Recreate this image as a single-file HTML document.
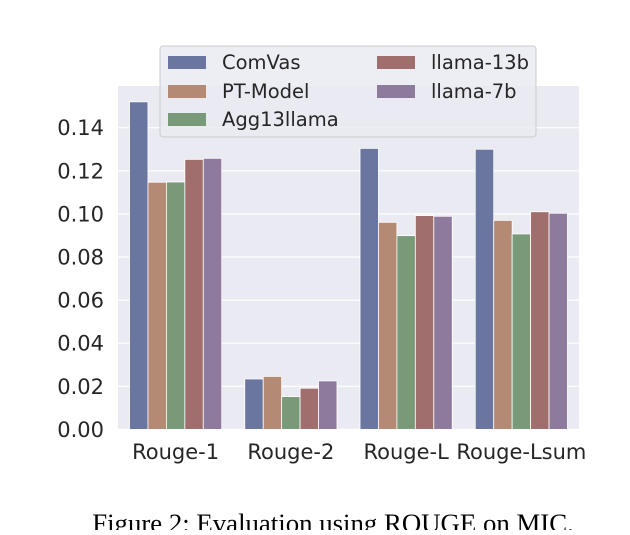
<!DOCTYPE html>
<html><head><meta charset="utf-8"><style>
body{margin:0;background:#fff;width:630px;height:530px;overflow:hidden}
svg text{font-family:"DejaVu Sans","Liberation Sans",sans-serif}
</style></head><body>
<svg width="630" height="530">
<g id="chart"></g>
<text x="333" y="532" text-anchor="middle" style="font-family:'Liberation Serif',serif;font-size:26.8px">Figure 2: Evaluation using ROUGE on MIC.</text>
</svg>
<script>
const categories=["Rouge-1","Rouge-2","Rouge-L","Rouge-Lsum"];
const seriesNames=["ComVas","PT-Model","Agg13llama","llama-13b","llama-7b"];
const comvas=[0.152,0.0234,0.1304,0.130];
const ptModel=[0.1147,0.0246,0.0961,0.0970];
const agg13llama=[0.1148,0.0152,0.0899,0.0907];
const llama13b=[0.1253,0.0191,0.0992,0.1010];
const llama7b=[0.1258,0.0225,0.0989,0.1003];
const yTicks=[0,0.02,0.04,0.06,0.08,0.10,0.12,0.14];
const tickLabels=["0.00","0.02","0.04","0.06","0.08","0.10","0.12","0.14"];
const series=[comvas,ptModel,agg13llama,llama13b,llama7b];
const colors=["#6a75a0","#b58a74","#789a78","#a06e6c","#8d7a9d"];
const L=118,R=579,T=86,B=429.4;
const yScale=v=>B-v/0.02*43.1;
const xScale=u=>L+(u+0.5)*(R-L)/4;
const NS="http://www.w3.org/2000/svg";
const g=document.getElementById('chart');
function mk(t,a){const e=document.createElementNS(NS,t);for(const k in a)e.setAttribute(k,a[k]);g.appendChild(e);return e;}
const bg=mk('rect',{x:L,y:T,width:R-L,height:B-T,fill:'#eaeaf2'});


yTicks.forEach((v,i)=>{
 const y=yScale(v);
 const l=mk('line',{x1:L,x2:R,y1:y,y2:y,stroke:'#fff','stroke-width':1.2});
 
 
 const t=mk('text',{x:104,y:y+7.5,'text-anchor':'end','font-size':'21px',fill:'#262626'});
 t.textContent=tickLabels[i];
 
 
});
const bw=0.16;
series.forEach((s,si)=>{
 s.forEach((v,ci)=>{
  const x0=xScale(ci-0.4+si*bw);
  const x1=xScale(ci-0.4+(si+1)*bw);
  const r=mk('rect',{x:x0,y:yScale(v),width:x1-x0,height:B-yScale(v),fill:colors[si],stroke:'#fff','stroke-width':0.8});
  
  
 });
});
categories.forEach((c,i)=>{
 const t=mk('text',{x:xScale(i),y:459,'text-anchor':'middle','font-size':'21px',fill:'#262626'});
 t.textContent=c;
 
 
});
const lg=mk('rect',{x:160,y:46,width:376,height:91,rx:3,fill:'#eaeaf2','fill-opacity':0.85,stroke:'#cccccc'});


const pos=[[168,62],[168,91],[168,119],[377,62],[377,91]];
seriesNames.forEach((n,i)=>{
 const [px,py]=pos[i];
 const p=mk('rect',{x:px,y:py-6,width:38,height:13,fill:colors[i]});
 
 
 const t=mk('text',{x:px+54,y:py+7,'font-size':'19.5px',fill:'#262626'});
 t.textContent=n;
 
 
});
</script>
</body></html>
